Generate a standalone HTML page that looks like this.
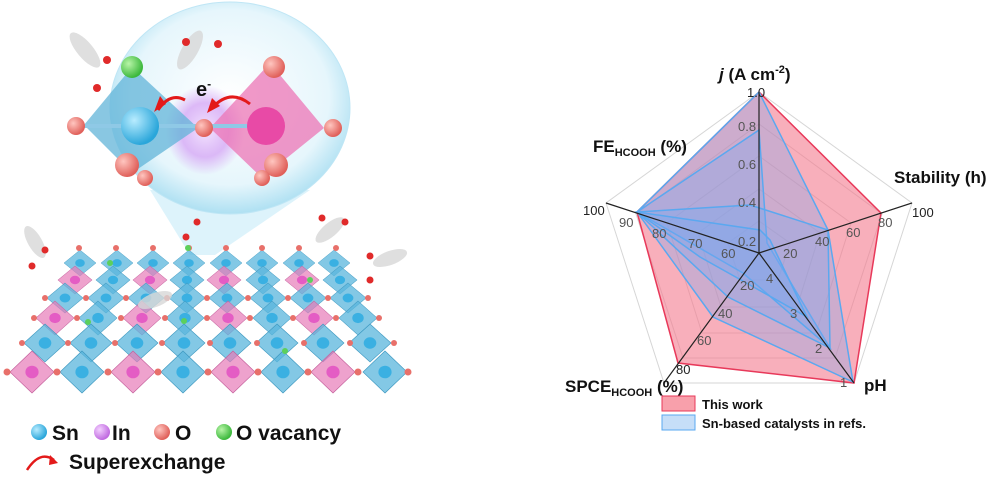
<!DOCTYPE html>
<html><head><meta charset="utf-8"><style>
html,body{margin:0;padding:0;background:#fff;width:992px;height:478px;overflow:hidden}
svg{display:block;font-family:"Liberation Sans",Arial,sans-serif}
</style></head><body>
<svg width="992" height="478" viewBox="0 0 992 478" xmlns="http://www.w3.org/2000/svg">
<defs>
<radialGradient id="bub" cx="50%" cy="45%" r="55%"><stop offset="0" stop-color="#ffffff"/><stop offset="0.75" stop-color="#e6f6fc"/><stop offset="1" stop-color="#aee0f2"/></radialGradient>
<radialGradient id="gS" cx="35%" cy="35%" r="65%"><stop offset="0" stop-color="#b8ecff"/><stop offset="1" stop-color="#2aa6da"/></radialGradient>
<radialGradient id="gI" cx="35%" cy="35%" r="65%"><stop offset="0" stop-color="#f3d0ff"/><stop offset="1" stop-color="#c06ae0"/></radialGradient>
<radialGradient id="gO" cx="35%" cy="35%" r="65%"><stop offset="0" stop-color="#ffc6c0"/><stop offset="1" stop-color="#e0605a"/></radialGradient>
<radialGradient id="gV" cx="35%" cy="35%" r="65%"><stop offset="0" stop-color="#b8f5a8"/><stop offset="1" stop-color="#3cb83c"/></radialGradient>
<radialGradient id="glow" cx="50%" cy="50%" r="50%"><stop offset="0" stop-color="#f4e6ff"/><stop offset="0.6" stop-color="#d6a8f5" stop-opacity="0.8"/><stop offset="1" stop-color="#d6a8f5" stop-opacity="0"/></radialGradient>
<g id="dB"><polygon points="0,-1 1,0 0,1 -1,0" fill="#5ab6dc" fill-opacity="0.75" stroke="#3d98c0" stroke-width="0.03"/><circle r="0.3" fill="#3ab0e2"/></g>
<g id="dP"><polygon points="0,-1 1,0 0,1 -1,0" fill="#e77ab8" fill-opacity="0.7" stroke="#c4609c" stroke-width="0.03"/><circle r="0.3" fill="#e45cc4"/></g>
</defs>

<!-- bubble and cone -->
<polygon points="150,190 310,190 215,255 190,255" fill="#cfeefa" opacity="0.7"/>
<ellipse cx="230" cy="108" rx="120" ry="106" fill="url(#bub)" stroke="#bfe6f5" stroke-width="1"/>
<ellipse cx="205" cy="130" rx="40" ry="45" fill="url(#glow)"/>
<polygon points="132,67 198,128 132,173 84,125" fill="#62b4d8" fill-opacity="0.75"/>
<polygon points="270,63 324,128 262,178 210,128" fill="#ec75b6" fill-opacity="0.75"/>
<line x1="76" y1="126" x2="270" y2="126" stroke="#8fc9e6" stroke-width="4"/>
<circle cx="140" cy="126" r="19" fill="url(#gS)"/>
<circle cx="266" cy="126" r="19" fill="#e84aa6"/>
<circle cx="132" cy="67" r="11" fill="url(#gV)"/>
<circle cx="76" cy="126" r="9" fill="url(#gO)"/>
<circle cx="204" cy="128" r="9" fill="url(#gO)"/>
<circle cx="333" cy="128" r="9" fill="url(#gO)"/>
<circle cx="274" cy="67" r="11" fill="url(#gO)"/>
<circle cx="127" cy="165" r="12" fill="url(#gO)"/>
<circle cx="145" cy="178" r="8" fill="url(#gO)"/>
<circle cx="276" cy="165" r="12" fill="url(#gO)"/>
<circle cx="262" cy="178" r="8" fill="url(#gO)"/>
<path d="M185,100 Q170,92 158,110" fill="none" stroke="#e31a1a" stroke-width="3"/>
<polygon points="154,112 166,104 160,96" fill="#e31a1a"/>
<path d="M250,104 Q230,88 212,108" fill="none" stroke="#e31a1a" stroke-width="3"/>
<polygon points="207,113 220,106 212,98" fill="#e31a1a"/>
<text x="196" y="96" font-size="20" font-weight="bold" fill="#111">e<tspan dy="-8" font-size="12">-</tspan></text>

<!-- lattice -->
<g>
<use href="#dB" transform="translate(80,263) scale(16,13)"/><use href="#dB" transform="translate(117,263) scale(16,13)"/><use href="#dB" transform="translate(153,263) scale(16,13)"/><use href="#dB" transform="translate(189,263) scale(16,13)"/><use href="#dB" transform="translate(226,263) scale(16,13)"/><use href="#dB" transform="translate(262,263) scale(16,13)"/><use href="#dB" transform="translate(299,263) scale(16,13)"/><use href="#dB" transform="translate(334,263) scale(16,13)"/>
<use href="#dP" transform="translate(75,280) scale(17,14)"/><use href="#dB" transform="translate(113,280) scale(17,14)"/><use href="#dP" transform="translate(150,280) scale(17,14)"/><use href="#dB" transform="translate(187,280) scale(17,14)"/><use href="#dP" transform="translate(224,280) scale(17,14)"/><use href="#dB" transform="translate(263,280) scale(17,14)"/><use href="#dP" transform="translate(302,280) scale(17,14)"/><use href="#dB" transform="translate(340,280) scale(17,14)"/>
<use href="#dB" transform="translate(65,298) scale(18,15)"/><use href="#dB" transform="translate(106,298) scale(18,15)"/><use href="#dB" transform="translate(146,298) scale(18,15)"/><use href="#dB" transform="translate(187,298) scale(18,15)"/><use href="#dB" transform="translate(227,298) scale(18,15)"/><use href="#dB" transform="translate(268,298) scale(18,15)"/><use href="#dB" transform="translate(308,298) scale(18,15)"/><use href="#dB" transform="translate(348,298) scale(18,15)"/>
<use href="#dP" transform="translate(55,318) scale(19,17)"/><use href="#dB" transform="translate(98,318) scale(19,17)"/><use href="#dP" transform="translate(142,318) scale(19,17)"/><use href="#dB" transform="translate(185,318) scale(19,17)"/><use href="#dP" transform="translate(228,318) scale(19,17)"/><use href="#dB" transform="translate(272,318) scale(19,17)"/><use href="#dP" transform="translate(314,318) scale(19,17)"/><use href="#dB" transform="translate(358,318) scale(19,17)"/>
<use href="#dB" transform="translate(45,343) scale(21,19)"/><use href="#dB" transform="translate(91,343) scale(21,19)"/><use href="#dB" transform="translate(137,343) scale(21,19)"/><use href="#dB" transform="translate(184,343) scale(21,19)"/><use href="#dB" transform="translate(230,343) scale(21,19)"/><use href="#dB" transform="translate(277,343) scale(21,19)"/><use href="#dB" transform="translate(323,343) scale(21,19)"/><use href="#dB" transform="translate(370,343) scale(21,19)"/>
<use href="#dP" transform="translate(32,372) scale(22,21)"/><use href="#dB" transform="translate(82,372) scale(22,21)"/><use href="#dP" transform="translate(133,372) scale(22,21)"/><use href="#dB" transform="translate(183,372) scale(22,21)"/><use href="#dP" transform="translate(233,372) scale(22,21)"/><use href="#dB" transform="translate(283,372) scale(22,21)"/><use href="#dP" transform="translate(333,372) scale(22,21)"/><use href="#dB" transform="translate(385,372) scale(22,21)"/>
</g>
<g fill="#e8706a">
<circle cx="7" cy="372" r="3.5"/><circle cx="57" cy="372" r="3.5"/><circle cx="108" cy="372" r="3.5"/><circle cx="158" cy="372" r="3.5"/><circle cx="208" cy="372" r="3.5"/><circle cx="258" cy="372" r="3.5"/><circle cx="308" cy="372" r="3.5"/><circle cx="358" cy="372" r="3.5"/><circle cx="408" cy="372" r="3.5"/>
<circle cx="22" cy="343" r="3"/><circle cx="68" cy="343" r="3"/><circle cx="115" cy="343" r="3"/><circle cx="162" cy="343" r="3"/><circle cx="210" cy="343" r="3"/><circle cx="257" cy="343" r="3"/><circle cx="304" cy="343" r="3"/><circle cx="350" cy="343" r="3"/><circle cx="394" cy="343" r="3"/>
<circle cx="34" cy="318" r="3"/><circle cx="77" cy="318" r="3"/><circle cx="121" cy="318" r="3"/><circle cx="165" cy="318" r="3"/><circle cx="207" cy="318" r="3"/><circle cx="250" cy="318" r="3"/><circle cx="293" cy="318" r="3"/><circle cx="336" cy="318" r="3"/><circle cx="379" cy="318" r="3"/>
<circle cx="45" cy="298" r="3"/><circle cx="86" cy="298" r="3"/><circle cx="126" cy="298" r="3"/><circle cx="167" cy="298" r="3"/><circle cx="207" cy="298" r="3"/><circle cx="248" cy="298" r="3"/><circle cx="288" cy="298" r="3"/><circle cx="328" cy="298" r="3"/><circle cx="368" cy="298" r="3"/>
<circle cx="79" cy="248" r="3"/><circle cx="116" cy="248" r="3"/><circle cx="153" cy="248" r="3"/><circle cx="189" cy="248" r="3"/><circle cx="226" cy="248" r="3"/><circle cx="262" cy="248" r="3"/><circle cx="299" cy="248" r="3"/><circle cx="336" cy="248" r="3"/>
</g>
<g fill="#5cd05c"><circle cx="110" cy="263" r="3"/><circle cx="88" cy="322" r="3"/><circle cx="184" cy="321" r="3"/><circle cx="310" cy="280" r="3"/><circle cx="285" cy="351" r="3"/><circle cx="188" cy="248" r="3"/></g>
<g fill="#d8d8d8" opacity="0.8"><ellipse cx="35" cy="242" rx="7" ry="18" transform="rotate(-30 35 242)"/><ellipse cx="155" cy="300" rx="7" ry="18" transform="rotate(70 155 300)"/><ellipse cx="330" cy="230" rx="7" ry="18" transform="rotate(50 330 230)"/><ellipse cx="390" cy="258" rx="7" ry="18" transform="rotate(70 390 258)"/><ellipse cx="85" cy="50" rx="8" ry="22" transform="rotate(-40 85 50)"/><ellipse cx="190" cy="50" rx="8" ry="22" transform="rotate(30 190 50)"/></g>
<g fill="#e02a2a"><circle cx="45" cy="250" r="3.5"/><circle cx="32" cy="266" r="3.5"/><circle cx="370" cy="256" r="3.5"/><circle cx="370" cy="280" r="3.5"/><circle cx="322" cy="218" r="3.5"/><circle cx="345" cy="222" r="3.5"/><circle cx="107" cy="60" r="4"/><circle cx="97" cy="88" r="4"/><circle cx="186" cy="42" r="4"/><circle cx="218" cy="44" r="4"/><circle cx="186" cy="237" r="3.5"/><circle cx="197" cy="222" r="3.5"/></g>

<!-- legend left -->
<circle cx="39" cy="432" r="8" fill="url(#gS)"/><text x="52" y="440" font-size="21" font-weight="bold" fill="#111">Sn</text>
<circle cx="102" cy="432" r="8" fill="url(#gI)"/><text x="112" y="440" font-size="21" font-weight="bold" fill="#111">In</text>
<circle cx="162" cy="432" r="8" fill="url(#gO)"/><text x="175" y="440" font-size="21" font-weight="bold" fill="#111">O</text>
<circle cx="224" cy="432" r="8" fill="url(#gV)"/><text x="236" y="440" font-size="21" font-weight="bold" fill="#111">O vacancy</text>
<path d="M27,470 Q40,450 54,460" fill="none" stroke="#e31a1a" stroke-width="2.5"/><polygon points="50,455 58,463 49,465" fill="#e31a1a"/>
<text x="69" y="469" font-size="21" font-weight="bold" fill="#111">Superexchange</text>

<!-- radar chart -->
<g fill="none" stroke="#d6d6d6" stroke-width="1">
<polygon points="759,92 912,203 854,383 664,383 606,203"/>
<polygon points="759,124 882,214 835,358 683,358 636,214"/>
<polygon points="759,156 851,223 816,333 702,333 667,223"/>
<polygon points="759,189 820,233 797,307 721,307 698,233"/>
<polygon points="759,221 790,243 778,280 740,280 728,243"/>
</g>
<polygon points="759,92 881,213 854,383 678,363 637,212" fill="#f4798d" fill-opacity="0.6" stroke="#e8395a" stroke-width="1.5"/>
<g fill="#7aa6ee" fill-opacity="0.35" stroke="#5aa8f0" stroke-width="1.5">
<polygon points="759,92 828,230 853,382 713,317 637,212"/>
<polygon points="759,130 767,243 830,348 728,297 637,212"/>
<polygon points="750,205 828,230 830,348 743,273 637,212"/>
<polygon points="760,230 770,240 807,317 700,257 637,212"/>
</g>
<g stroke="#222" stroke-width="1.2">
<line x1="759" y1="253" x2="759" y2="92"/>
<line x1="759" y1="253" x2="912" y2="203"/>
<line x1="759" y1="253" x2="854" y2="383"/>
<line x1="759" y1="253" x2="664" y2="383"/>
<line x1="759" y1="253" x2="606" y2="203"/>
</g>
<g font-size="13" fill="#555">
<text x="747" y="97" fill="#222">1.0</text><text x="738" y="131">0.8</text><text x="738" y="169">0.6</text><text x="738" y="207">0.4</text><text x="738" y="246">0.2</text>
<text x="912" y="217" fill="#222">100</text><text x="878" y="227">80</text><text x="846" y="237">60</text><text x="815" y="246">40</text><text x="783" y="258">20</text>
<text x="840" y="387">1</text><text x="815" y="353">2</text><text x="790" y="318">3</text><text x="766" y="283">4</text>
<text x="676" y="374" fill="#222">80</text><text x="697" y="345">60</text><text x="718" y="318">40</text><text x="740" y="290">20</text>
<text x="583" y="215" fill="#222">100</text><text x="619" y="227">90</text><text x="652" y="238">80</text><text x="688" y="248">70</text><text x="721" y="258">60</text>
</g>
<g font-size="17" font-weight="bold" fill="#111">
<text x="719" y="80"><tspan font-style="italic">j</tspan> (A cm<tspan dy="-7" font-size="11">-2</tspan><tspan dy="7">)</tspan></text>
<text x="894" y="183">Stability (h)</text>
<text x="593" y="152">FE<tspan font-size="11" dy="4">HCOOH</tspan><tspan dy="-4"> (%)</tspan></text>
<text x="565" y="392">SPCE<tspan font-size="11" dy="4">HCOOH</tspan><tspan dy="-4"> (%)</tspan></text>
<text x="864" y="391">pH</text>
</g>
<rect x="662" y="396" width="33" height="15" fill="#f8a0ab" stroke="#e8395a"/>
<text x="702" y="409" font-size="13" font-weight="bold" fill="#111">This work</text>
<rect x="662" y="415" width="33" height="15" fill="#c6def8" stroke="#5aa8f0"/>
<text x="702" y="428" font-size="13" font-weight="bold" fill="#111">Sn-based catalysts in refs.</text>
</svg>
</body></html>
